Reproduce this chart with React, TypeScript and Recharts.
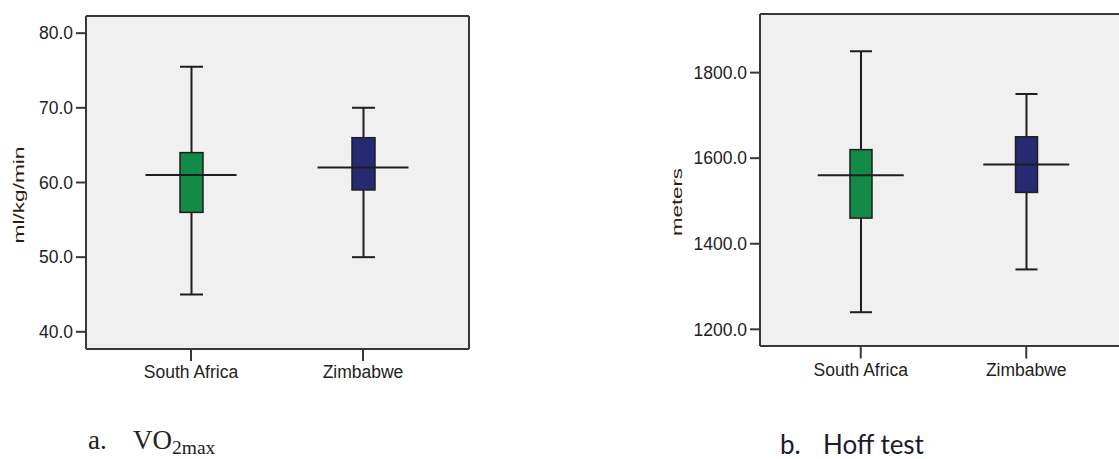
import {
  ComposedChart,
  Bar,
  Cell,
  Scatter,
  XAxis,
  YAxis,
  CartesianGrid,
} from "recharts";

const categories = ["South Africa", "Zimbabwe"];
const boxColors = ["#138a48", "#262a72"];

// a. VO2max (ml/kg/min)
const vo2Min = [45, 50];
const vo2Q1 = [56, 59];
const vo2Median = [61, 62];
const vo2Q3 = [64, 66];
const vo2Max = [75.5, 70];
const vo2Ticks = [40, 50, 60, 70, 80];

// b. Hoff test (meters)
const hoffMin = [1240, 1340];
const hoffQ1 = [1460, 1520];
const hoffMedian = [1560, 1585];
const hoffQ3 = [1620, 1650];
const hoffMax = [1850, 1750];
const hoffTicks = [1200, 1400, 1600, 1800];

const frame = "#383838";
const dark = "#1e1e1e";
const sans = "'Liberation Sans', Arial, sans-serif";

function buildRows(mins: number[], q1: number[], med: number[], q3: number[], maxs: number[]) {
  return categories.map((name, i) => ({
    name,
    base: mins[i],
    lowWhisker: q1[i] - mins[i],
    box: q3[i] - q1[i],
    highWhisker: maxs[i] - q3[i],
    median: med[i],
  }));
}

const vo2Rows = buildRows(vo2Min, vo2Q1, vo2Median, vo2Q3, vo2Max);
const hoffRows = buildRows(hoffMin, hoffQ1, hoffMedian, hoffQ3, hoffMax);

const Empty = () => <g />;

const LowWhisker = (p: any) => {
  const cx = p.x + p.width / 2;
  const bottom = p.y + p.height;
  return (
    <g stroke={dark} strokeWidth={2}>
      <line x1={cx} y1={p.y} x2={cx} y2={bottom} />
      <line x1={p.x} y1={bottom} x2={p.x + p.width} y2={bottom} />
    </g>
  );
};

const HighWhisker = (p: any) => {
  const cx = p.x + p.width / 2;
  return (
    <g stroke={dark} strokeWidth={2}>
      <line x1={cx} y1={p.y} x2={cx} y2={p.y + p.height} />
      <line x1={p.x} y1={p.y} x2={p.x + p.width} y2={p.y} />
    </g>
  );
};

const BoxShape = (p: any) => (
  <rect x={p.x} y={p.y} width={p.width} height={p.height} fill={p.fill} stroke={dark} strokeWidth={1.5} />
);

const medianShape = (half: number) => (p: any) => (
  <line x1={p.cx - half} y1={p.cy} x2={p.cx + half} y2={p.cy} stroke={dark} strokeWidth={2} />
);

const AxisTitle = (p: any) => (
  <text
    x={p.lx}
    y={p.ly}
    transform={`rotate(-90, ${p.lx}, ${p.ly})`}
    textAnchor="middle"
    dominantBaseline="central"
    fontFamily={sans}
    fontSize={15.5}
    fill="#2b1d12"
    textLength={p.len}
    lengthAdjust="spacingAndGlyphs"
  >
    {p.text}
  </text>
);

type PanelProps = {
  rows: any[];
  width: number;
  height: number;
  margin: { top: number; right: number; bottom: number; left: number };
  yWidth: number;
  domain: [number, number];
  ticks: number[];
  pad: { left: number; right: number };
  barSize: number;
  medianHalf: number;
  title: string;
  titleX: number;
  titleY: number;
  titleLen: number;
  xTickSize: number;
  rightEdge: boolean;
};

function BoxPanel(props: PanelProps) {
  const axisLine = { stroke: frame, strokeWidth: 2 };
  const tick = { fill: "#222", fontSize: 17.5, fontFamily: sans };
  return (
    <ComposedChart width={props.width} height={props.height} data={props.rows} margin={props.margin}>
      {/* background plus the top (and right) edges of the frame */}
      <CartesianGrid
        fill="#f0f0f0"
        stroke={frame}
        strokeWidth={2}
        vertical={props.rightEdge}
        horizontalCoordinatesGenerator={({ offset }: any) => [offset.top]}
        verticalCoordinatesGenerator={({ offset }: any) => [offset.left + offset.width]}
      />
      <XAxis
        dataKey="name"
        padding={props.pad}
        tick={tick}
        tickSize={props.xTickSize}
        tickMargin={5}
        height={40}
        axisLine={axisLine}
        tickLine={{ stroke: frame, strokeWidth: 2 }}
      />
      <YAxis
        domain={props.domain}
        ticks={props.ticks}
        allowDataOverflow
        width={props.yWidth}
        tickSize={10}
        tickMargin={3}
        tick={tick}
        tickFormatter={(v: number) => v.toFixed(1)}
        axisLine={axisLine}
        tickLine={{ stroke: frame, strokeWidth: 2 }}
        label={<AxisTitle lx={props.titleX} ly={props.titleY} len={props.titleLen} text={props.title} />}
      />
      <Bar dataKey="base" stackId="b" barSize={props.barSize} shape={Empty} isAnimationActive={false} />
      <Bar dataKey="lowWhisker" stackId="b" barSize={props.barSize} shape={LowWhisker} isAnimationActive={false} />
      <Bar dataKey="box" stackId="b" barSize={props.barSize} shape={BoxShape} isAnimationActive={false}>
        {props.rows.map((r, i) => (
          <Cell key={r.name} fill={boxColors[i]} />
        ))}
      </Bar>
      <Bar dataKey="highWhisker" stackId="b" barSize={props.barSize} shape={HighWhisker} isAnimationActive={false} />
      <Scatter dataKey="median" shape={medianShape(props.medianHalf)} isAnimationActive={false} />
    </ComposedChart>
  );
}

export default function App() {
  return (
    <div
      style={{
        position: "fixed",
        left: 0,
        top: 0,
        width: 1119,
        height: 459,
        overflow: "hidden",
        background: "#fff",
      }}
    >
      <div style={{ position: "absolute", left: 0, top: 0 }}>
        <BoxPanel
          rows={vo2Rows}
          width={480}
          height={400}
          margin={{ top: 16, right: 11, bottom: 11, left: 0 }}
          yWidth={86}
          domain={[37.7, 82.3]}
          ticks={vo2Ticks}
          pad={{ left: 19, right: 20 }}
          barSize={23}
          medianHalf={45.5}
          title="ml/kg/min"
          titleX={18}
          titleY={195}
          titleLen={97}
          xTickSize={12}
          rightEdge={true}
        />
      </div>
      <div style={{ position: "absolute", left: 640, top: 0, width: 479, height: 400, overflow: "hidden" }}>
        <BoxPanel
          rows={hoffRows}
          width={540}
          height={400}
          margin={{ top: 14, right: 13, bottom: 14, left: 0 }}
          yWidth={120}
          domain={[1161, 1937]}
          ticks={hoffTicks}
          pad={{ left: 18, right: 58 }}
          barSize={22}
          medianHalf={43}
          title="meters"
          titleX={36}
          titleY={202}
          titleLen={68}
          xTickSize={12.5}
          rightEdge={false}
        />
      </div>
      <div
        style={{
          position: "absolute",
          left: 88,
          top: 427,
          fontFamily: "'Liberation Serif', 'Times New Roman', serif",
          fontSize: 27,
          lineHeight: "27px",
          color: "#222",
          whiteSpace: "nowrap",
        }}
      >
        <span>a.</span>
        <span style={{ position: "absolute", left: 45 }}>
          VO<sub style={{ fontSize: 19.5, verticalAlign: "-5px" }}>2max</sub>
        </span>
      </div>
      <div
        style={{
          position: "absolute",
          left: 780,
          top: 431,
          fontFamily: "Lato, 'Open Sans', sans-serif",
          fontSize: 26,
          lineHeight: "26px",
          color: "#1c1c2c",
          whiteSpace: "nowrap",
        }}
      >
        <span>b.</span>
        <span style={{ position: "absolute", left: 43 }}>Hoff test</span>
      </div>
    </div>
  );
}
